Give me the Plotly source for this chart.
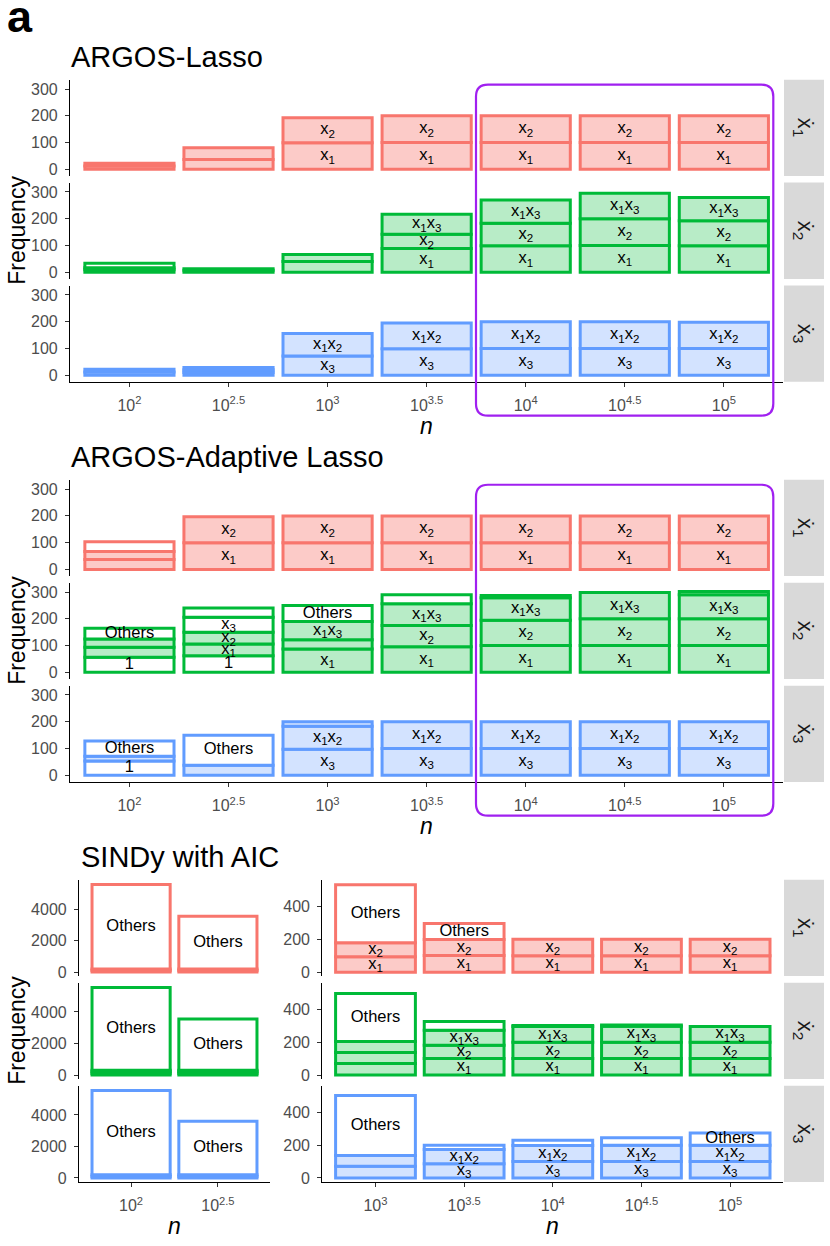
import plotly.graph_objects as go

W, H = 830, 1246

# ---------------- data ----------------
N_LEVELS = ["10<sup>2</sup>", "10<sup>2.5</sup>", "10<sup>3</sup>", "10<sup>3.5</sup>",
            "10<sup>4</sup>", "10<sup>4.5</sup>", "10<sup>5</sup>"]
EQUATIONS = ["ẋ<sub>1</sub>", "ẋ<sub>2</sub>", "ẋ<sub>3</sub>"]
METHODS = ["ARGOS-Lasso", "ARGOS-Adaptive Lasso", "SINDy with AIC"]

X1 = "x<sub>1</sub>"
X2 = "x<sub>2</sub>"
X3 = "x<sub>3</sub>"
X1X2 = "x<sub>1</sub>x<sub>2</sub>"
X1X3 = "x<sub>1</sub>x<sub>3</sub>"
OTH = "Others"
ONE = "1"
T, F = True, False  # True: correct term (tinted), False: other term (white)

# each entry: list of stacked segments (frequency, label shown, correct term?)
lasso_x1 = [
    [(12, "", T), (11, "", T)],
    [(37, "", T), (44, "", T)],
    [(99, X1, T), (94, X2, T)],
    [(100, X1, T), (100, X2, T)],
    [(100, X1, T), (100, X2, T)],
    [(100, X1, T), (100, X2, T)],
    [(100, X1, T), (100, X2, T)],
]
lasso_x2 = [
    [(9, "", T), (8, "", T), (17, "", F)],
    [(7, "", T), (6, "", T)],
    [(40, "", T), (26, "", T)],
    [(89, X1, T), (53, X2, T), (75, X1X3, T)],
    [(99, X1, T), (84, X2, T), (87, X1X3, T)],
    [(100, X1, T), (100, X2, T), (95, X1X3, T)],
    [(99, X1, T), (93, X2, T), (87, X1X3, T)],
]
lasso_x3 = [
    [(12, "", T), (10, "", T)],
    [(10, "", T), (10, "", T), (9, "", T)],
    [(72, X3, T), (84, X1X2, T)],
    [(99, X3, T), (96, X1X2, T)],
    [(100, X3, T), (100, X1X2, T)],
    [(100, X3, T), (100, X1X2, T)],
    [(100, X3, T), (98, X1X2, T)],
]

ada_x1 = [
    [(37, "", T), (30, "", T), (36, "", F)],
    [(100, X1, T), (97, X2, T)],
    [(100, X1, T), (100, X2, T)],
    [(100, X1, T), (100, X2, T)],
    [(100, X1, T), (100, X2, T)],
    [(100, X1, T), (100, X2, T)],
    [(100, X1, T), (100, X2, T)],
]
ada_x2 = [
    [(56, ONE, F), (38, "", T), (31, "", T), (40, OTH, F)],
    [(62, ONE, F), (44, X1, T), (44, X2, T), (56, X3, F), (34, "", F)],
    [(87, X1, T), (35, "", T), (68, X1X3, T), (60, OTH, F)],
    [(96, X1, T), (79, X2, T), (81, X1X3, T), (34, "", F)],
    [(100, X1, T), (95, X2, T), (84, X1X3, T), (8, "", F)],
    [(100, X1, T), (100, X2, T), (98, X1X3, T)],
    [(100, X1, T), (100, X2, T), (90, X1X3, T), (12, "", T)],
]
ada_x3 = [
    [(53, ONE, F), (18, "", T), (57, OTH, F)],
    [(37, "", T), (113, OTH, F)],
    [(97, X3, T), (86, X1X2, T), (17, "", T)],
    [(100, X3, T), (100, X1X2, T)],
    [(100, X3, T), (100, X1X2, T)],
    [(100, X3, T), (100, X1X2, T)],
    [(100, X3, T), (100, X1X2, T)],
]

# SINDy, small n (first two levels)
sindy_lo_x1 = [
    [(100, "", T), (100, "", T), (5350, OTH, F)],
    [(100, "", T), (100, "", T), (3350, OTH, F)],
]
sindy_lo_x2 = [
    [(100, "", T), (100, "", T), (100, "", T), (5250, OTH, F)],
    [(100, "", T), (100, "", T), (100, "", T), (3250, OTH, F)],
]
sindy_lo_x3 = [
    [(100, "", T), (100, "", T), (5350, OTH, F)],
    [(100, "", T), (100, "", T), (3400, OTH, F)],
]
# SINDy, larger n (last five levels)
sindy_hi_x1 = [
    [(93, X1, T), (85, X2, T), (354, OTH, F)],
    [(101, X1, T), (97, X2, T), (98, OTH, F)],
    [(100, X1, T), (100, X2, T)],
    [(100, X1, T), (100, X2, T)],
    [(100, X1, T), (100, X2, T)],
]
sindy_hi_x2 = [
    [(70, "", T), (67, "", T), (67, "", T), (292, OTH, F)],
    [(101, X1, T), (81, X2, T), (91, X1X3, T), (53, "", F)],
    [(100, X1, T), (100, X2, T), (95, X1X3, T), (7, "", F)],
    [(100, X1, T), (100, X2, T), (97, X1X3, T), (7, "", F)],
    [(100, X1, T), (100, X2, T), (96, X1X3, T)],
]
sindy_hi_x3 = [
    [(71, "", T), (66, "", T), (365, OTH, F)],
    [(87, X3, T), (87, X1X2, T), (25, "", F)],
    [(101, X3, T), (97, X1X2, T), (32, "", F)],
    [(100, X3, T), (100, X1X2, T), (45, "", F)],
    [(100, X3, T), (100, X1X2, T), (74, OTH, F)],
]

# ---------------- style ----------------
COLORS = ["#F8766D", "#00BA38", "#619CFF"]
LIGHT = ["#fccbc8", "#b8ecc7", "#d3e3ff"]
FONT = "Liberation Sans, Arial, Helvetica, sans-serif"
TICK_COLOR = "#4d4d4d"

ROW_H = 96.7
ROW_STEP = 103.35
PANEL_TOPS = [80.0, 481.7, 883.3]


def px(x):
    return x / W


def py(y):
    return 1 - y / H


blocks = [
    dict(top=PANEL_TOPS[0], x0=70, x1=783.3, cats=N_LEVELS,
         rows=[lasso_x1, lasso_x2, lasso_x3], yr=[-25, 335], tv=[0, 100, 200, 300]),
    dict(top=PANEL_TOPS[1], x0=70, x1=783.3, cats=N_LEVELS,
         rows=[ada_x1, ada_x2, ada_x3], yr=[-25, 335], tv=[0, 100, 200, 300]),
    dict(top=PANEL_TOPS[2], x0=79, x1=270, cats=N_LEVELS[:2],
         rows=[sindy_lo_x1, sindy_lo_x2, sindy_lo_x3], yr=[-253, 5858], tv=[0, 2000, 4000]),
    dict(top=PANEL_TOPS[2], x0=322.3, x1=783.3, cats=N_LEVELS[2:],
         rows=[sindy_hi_x1, sindy_hi_x2, sindy_hi_x3], yr=[-24, 562], tv=[0, 200, 400]),
]


def axname(letter, i):
    return f"{letter}axis" if i == 1 else f"{letter}axis{i}"


def axref(letter, i):
    return letter if i == 1 else f"{letter}{i}"


fig = go.Figure()
layout = dict(
    width=W, height=H, margin=dict(l=0, r=0, t=0, b=0),
    paper_bgcolor="white", plot_bgcolor="white", showlegend=False,
    barmode="overlay", font=dict(family=FONT),
)

for bi, b in enumerate(blocks):
    xi = bi + 1
    bottom_y = 3 * bi + 3
    layout[axname("x", xi)] = dict(
        domain=[px(b["x0"]), px(b["x1"])], anchor=axref("y", bottom_y),
        type="category", categoryorder="array", categoryarray=b["cats"],
        range=[-0.6, len(b["cats"]) - 0.4],
        showline=True, linecolor="black", linewidth=1.2,
        ticks="outside", ticklen=4, tickwidth=1.1, tickcolor="#333333",
        ticklabelstandoff=5,
        tickfont=dict(size=16, color=TICK_COLOR, family=FONT),
        showgrid=False, zeroline=False, fixedrange=True,
    )
    for r in range(3):
        yi = 3 * bi + r + 1
        top = b["top"] + r * ROW_STEP
        layout[axname("y", yi)] = dict(
            domain=[py(top + ROW_H), py(top)], anchor=axref("x", xi),
            range=b["yr"], tickvals=b["tv"], ticktext=[str(v) for v in b["tv"]],
            showline=True, linecolor="black", linewidth=1.2,
            ticks="outside", ticklen=4, tickwidth=1.1, tickcolor="#333333",
            ticklabelstandoff=4,
            tickfont=dict(size=16, color=TICK_COLOR, family=FONT),
            showgrid=False, zeroline=False, fixedrange=True,
        )
        segs = b["rows"][r]
        color, light = COLORS[r], LIGHT[r]
        nlev = max(len(s) for s in segs)
        tx, ty, tt = [], [], []
        for j in range(nlev):
            xs, ys, bases, fills = [], [], [], []
            for i, s in enumerate(segs):
                if j < len(s):
                    base = sum(v for v, _, _ in s[:j])
                    v, lab, tru = s[j]
                    xs.append(b["cats"][i])
                    ys.append(v)
                    bases.append(base)
                    fills.append(light if tru else "white")
                    if lab:
                        tx.append(b["cats"][i])
                        ty.append(base + v / 2)
                        tt.append(lab)
            fig.add_trace(go.Bar(
                x=xs, y=ys, base=bases, width=0.9,
                marker=dict(color=fills, line=dict(color=color, width=3)),
                xaxis=axref("x", xi), yaxis=axref("y", yi), hoverinfo="skip",
            ))
        if tt:
            fig.add_trace(go.Scatter(
                x=tx, y=ty, text=tt, mode="text", textposition="middle center",
                textfont=dict(size=16.5, color="black", family=FONT),
                xaxis=axref("x", xi), yaxis=axref("y", yi), hoverinfo="skip",
                cliponaxis=False,
            ))

shapes = []
annotations = []

# facet strips
for top0 in PANEL_TOPS:
    for r in range(3):
        top = top0 + r * ROW_STEP
        shapes.append(dict(type="rect", xref="paper", yref="paper",
                           x0=px(784), x1=px(824), y0=py(top + ROW_H), y1=py(top),
                           fillcolor="#d9d9d9", line=dict(width=0), layer="below"))
        annotations.append(dict(text=EQUATIONS[r], xref="paper", yref="paper",
                                x=px(804), y=py(top + ROW_H / 2), showarrow=False,
                                textangle=90, xanchor="center", yanchor="middle",
                                font=dict(size=22, color="#1a1a1a", family=FONT)))

# method titles and y titles
for k, top0 in enumerate(PANEL_TOPS):
    tx0 = 80 if k == 2 else 70
    annotations.append(dict(text=METHODS[k], xref="paper", yref="paper",
                            x=px(tx0 - 1), y=py(top0 - 22.5), showarrow=False,
                            xanchor="left", yanchor="middle",
                            font=dict(size=29, color="black", family=FONT)))
    annotations.append(dict(text="Frequency", xref="paper", yref="paper",
                            x=px(17), y=py(top0 + (2 * ROW_STEP + ROW_H) / 2),
                            showarrow=False, textangle=-90, xanchor="center",
                            yanchor="middle",
                            font=dict(size=23, color="black", family=FONT)))

# x titles
for b in blocks:
    annotations.append(dict(text="<i>n</i>", xref="paper", yref="paper",
                            x=px((b["x0"] + b["x1"]) / 2),
                            y=py(b["top"] + 348), showarrow=False,
                            xanchor="center", yanchor="middle",
                            font=dict(size=23, color="black", family=FONT)))

# panel tag
annotations.append(dict(text="<b>a</b>", xref="paper", yref="paper",
                        x=px(5), y=py(17), showarrow=False,
                        xanchor="left", yanchor="middle",
                        font=dict(size=45, color="black", family=FONT)))


# purple highlight boxes
def rounded_rect(x0, y0, x1, y1, r):
    return (f"M {px(x0 + r)},{py(y0)} L {px(x1 - r)},{py(y0)} "
            f"Q {px(x1)},{py(y0)} {px(x1)},{py(y0 + r)} "
            f"L {px(x1)},{py(y1 - r)} Q {px(x1)},{py(y1)} {px(x1 - r)},{py(y1)} "
            f"L {px(x0 + r)},{py(y1)} Q {px(x0)},{py(y1)} {px(x0)},{py(y1 - r)} "
            f"L {px(x0)},{py(y0 + r)} Q {px(x0)},{py(y0)} {px(x0 + r)},{py(y0)} Z")


for top0 in PANEL_TOPS[:2]:
    shapes.append(dict(type="path", xref="paper", yref="paper",
                       path=rounded_rect(476, top0 + 5, 773.3, top0 + 337.3, 12),
                       line=dict(color="#A020F0", width=2.2), layer="above"))

layout["shapes"] = shapes
layout["annotations"] = annotations
fig.update_layout(**layout)

fig.write_html(
    "out.html",
    config={"displayModeBar": False},
    post_script="document.body.style.margin='0';document.body.style.padding='0';",
)
